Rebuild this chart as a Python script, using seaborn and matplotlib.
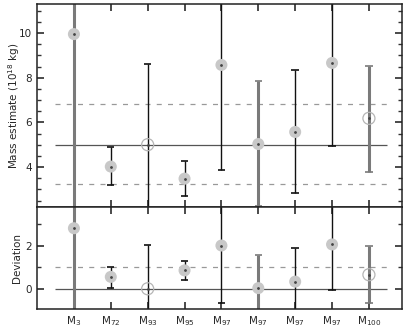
import numpy as np
import pandas as pd
import seaborn as sns
from matplotlib import pyplot as plt
from matplotlib.ticker import MultipleLocator

labels = ["3", "72", "93", "95", "97", "97", "97", "97", "100"]
mass = [9.95, 4.02, 5.0, 3.48, 8.57, 5.03, 5.57, 8.66, 6.18]
mass_hi = [12.0, 4.9, 8.63, 4.28, 12.0, 7.83, 8.35, 12.0, 8.54]
mass_lo = [1.0, 3.2, 1.0, 2.7, 3.87, 2.26, 2.83, 4.95, 3.77]
dev = [2.8, 0.55, 0.0, 0.85, 2.0, 0.03, 0.33, 2.05, 0.65]
dev_hi = [5.0, 1.0, 2.03, 1.29, 5.0, 1.58, 1.88, 5.0, 1.98]
dev_lo = [-2.0, 0.05, -2.0, 0.42, -0.65, -2.0, -2.0, -0.05, -0.68]
is_open = [False, False, True, False, False, False, False, False, True]
is_grey = [True, False, False, False, False, True, False, False, True]

mass_mean, mass_band = 5.0, (3.25, 6.8)
dev_mean, dev_band = 0.0, 1.0

sns.set_theme(style="ticks")
plt.rcParams["font.family"] = ["DejaVu Sans"]

df = pd.DataFrame({
    "x": np.arange(1, len(labels) + 1),
    "mass": mass, "mass_hi": mass_hi, "mass_lo": mass_lo,
    "dev": dev, "dev_hi": dev_hi, "dev_lo": dev_lo,
    "open": is_open, "grey": is_grey,
})

fig, (ax1, ax2) = plt.subplots(
    2, 1, figsize=(4.07, 3.30), dpi=100, sharex=True,
    gridspec_kw={"height_ratios": [2, 1], "hspace": 0},
)
fig.subplots_adjust(left=0.091, right=0.988, top=0.988, bottom=0.064)


def panel(ax, col, lo, hi, mean, band):
    ax.hlines(mean, 0.5, 9.5, color="#555555", lw=0.9, zorder=1)
    for b in band:
        ax.hlines(b, 0.5, 9.5, color="#999999", lw=0.9, linestyles=(0, (4, 5)), zorder=1)
    for _, r in df.iterrows():
        c, lw = ("#7a7a7a", 2.2) if r["grey"] else ("#111111", 1.0)
        ax.vlines(r["x"], r[lo], r[hi], color=c, lw=lw, zorder=2)
        for v in (r[lo], r[hi]):
            ax.hlines(v, r["x"] - 0.1, r["x"] + 0.1, color=c, lw=1.2, zorder=2)
    filled = df[~df["open"]]
    hollow = df[df["open"]]
    sns.scatterplot(data=filled, x="x", y=col, ax=ax, s=75, color="#c8c8c8",
                    edgecolor="none", zorder=3, legend=False)
    sns.scatterplot(data=hollow, x="x", y=col, ax=ax, s=75, facecolor="none",
                    edgecolor="#b5b5b5", linewidth=0.9, zorder=3, legend=False)
    ax.scatter(df["x"], df[col], s=1, color="#444444", zorder=4)
    ax.set_xlabel("")
    for s in ax.spines.values():
        s.set_color("#222222")
        s.set_linewidth(1.1)
    ax.tick_params(which="both", direction="in", top=True, right=True,
                   labelsize=7.5, color="#333333")
    ax.tick_params(which="major", length=5)
    ax.tick_params(which="minor", length=3)


panel(ax1, "mass", "mass_lo", "mass_hi", mass_mean, mass_band)
panel(ax2, "dev", "dev_lo", "dev_hi", dev_mean, (dev_band,))

ax1.set_ylim(2.2, 11.3)
ax1.yaxis.set_major_locator(MultipleLocator(2))
ax1.yaxis.set_minor_locator(MultipleLocator(0.5))
ax1.set_ylabel("Mass estimate (10$^{18}$ kg)", fontsize=7.5)

ax2.set_ylim(-0.93, 3.77)
ax2.yaxis.set_major_locator(MultipleLocator(2))
ax2.yaxis.set_minor_locator(MultipleLocator(1))
ax2.set_ylabel("Deviation", fontsize=7.5)

ax2.set_xlim(0, 9.9)
ax2.set_xticks(df["x"])
ax2.set_xticklabels([f"M$_{{{l}}}$" for l in labels], fontsize=7.5)
ax2.tick_params(axis="x", pad=4)
ax1.yaxis.set_label_coords(-0.042, 0.5)
ax2.yaxis.set_label_coords(-0.042, 0.5)

fig.savefig("out.png", dpi=100)
plt.close(fig)
